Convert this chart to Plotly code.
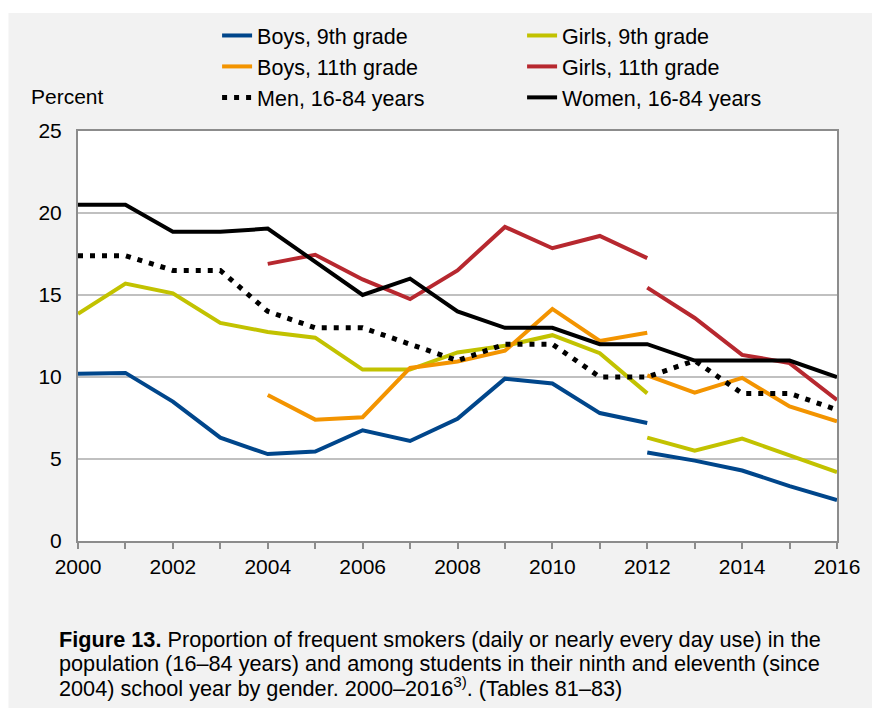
import plotly.graph_objects as go

# ---- data ----
years_all = list(range(2000, 2017))
years_9a = list(range(2000, 2013))
years_11a = list(range(2004, 2013))
years_b = list(range(2012, 2017))

boys9_a = [10.2, 10.25, 8.5, 6.3, 5.3, 5.45, 6.75, 6.1, 7.45, 9.9, 9.6, 7.8, 7.2]
boys9_b = [5.4, 4.9, 4.3, 3.35, 2.5]
girls9_a = [13.85, 15.7, 15.1, 13.3, 12.75, 12.4, 10.45, 10.45, 11.5, 11.9, 12.55, 11.45, 9.0]
girls9_b = [6.3, 5.5, 6.25, 5.25, 4.2]
boys11_a = [8.9, 7.4, 7.55, 10.55, 10.95, 11.6, 14.15, 12.2, 12.7]
boys11_b = [10.1, 9.05, 9.95, 8.2, 7.3]
girls11_a = [16.9, 17.45, 15.95, 14.75, 16.5, 19.15, 17.85, 18.6, 17.25]
girls11_b = [15.45, 13.6, 11.35, 10.85, 8.6]
men = [17.4, 17.4, 16.5, 16.5, 14.0, 13.0, 13.0, 12.0, 11.0, 12.0, 12.0, 10.0, 10.0, 11.0, 9.0, 9.0, 8.0]
women = [20.5, 20.5, 18.85, 18.85, 19.05, 17.0, 15.0, 16.0, 14.0, 13.0, 13.0, 12.0, 12.0, 11.0, 11.0, 11.0, 10.0]

x_label_vals = [y for y in years_all if y % 2 == 0]
x_label_text = [str(y) for y in x_label_vals]
y_tick_vals = [0, 5, 10, 15, 20, 25]

caption_lines = [
    "<b>Figure 13.</b> Proportion of frequent smokers (daily or nearly every day use) in the",
    "population (16–84 years) and among students in their ninth and eleventh (since",
    "2004) school year by gender. 2000–2016<sup>3)</sup>. (Tables 81–83)",
]

names = {
    "boys9": "Boys, 9th grade",
    "girls9": "Girls, 9th grade",
    "boys11": "Boys, 11th grade",
    "girls11": "Girls, 11th grade",
    "men": "Men, 16-84 years",
    "women": "Women, 16-84 years",
}
colors = {
    "boys9": "#00468b",
    "girls9": "#c2c200",
    "boys11": "#f39400",
    "girls11": "#b7282f",
    "men": "#000000",
    "women": "#000000",
}

FONT = "Liberation Sans, Arial, sans-serif"
LW = 4
AXIS_GRAY = "#8c8c8c"

fig = go.Figure()

def seg(x, y, key, legend, show, dash="solid", width=LW):
    fig.add_trace(go.Scatter(
        x=x, y=y, mode="lines", name=names[key],
        line=dict(color=colors[key], width=width, dash=dash),
        legend=legend, showlegend=show, legendgroup=key,
        hoverinfo="skip",
    ))

seg(years_9a, boys9_a, "boys9", "legend", True)
seg(years_b, boys9_b, "boys9", "legend", False)
seg(years_9a, girls9_a, "girls9", "legend2", True)
seg(years_b, girls9_b, "girls9", "legend2", False)
seg(years_11a, boys11_a, "boys11", "legend", True)
seg(years_b, boys11_b, "boys11", "legend", False)
seg(years_11a, girls11_a, "girls11", "legend2", True)
seg(years_b, girls11_b, "girls11", "legend2", False)
seg(years_all, men, "men", "legend", True, dash="5px,7px", width=5)
seg(years_all, women, "women", "legend2", True)

# pixel helpers for layout placement (plot area 78..842 x 131..541)
L, R, T, B = 78, 842, 131, 541
def px(xp):
    return (xp - L) / (R - L)
def py(yp):
    return (B - yp) / (B - T)

annotations = [
    dict(text="Percent", xref="paper", yref="paper",
         x=px(29), y=py(97), xanchor="left", yanchor="middle",
         showarrow=False, font=dict(size=21, family=FONT)),
]
for i, line in enumerate(caption_lines):
    annotations.append(dict(
        text=line, xref="paper", yref="paper", x=px(57), y=py(639 + 24 * i),
        xanchor="left", yanchor="middle", align="left",
        showarrow=False, font=dict(size=21.7, family=FONT)))

fig.update_layout(
    width=872, height=708,
    margin=dict(l=L, r=872 - R, t=T, b=708 - B, pad=0),
    paper_bgcolor="#ffffff",
    plot_bgcolor="#ffffff",
    font=dict(family=FONT, size=21, color="#000000"),
    legend=dict(
        x=px(218), y=py(15), xanchor="left", yanchor="top",
        bgcolor="rgba(0,0,0,0)", font=dict(size=21.5, family=FONT),
        traceorder="normal", tracegroupgap=0, itemwidth=30,
    ),
    legend2=dict(
        x=px(525), y=py(15), xanchor="left", yanchor="top",
        bgcolor="rgba(0,0,0,0)", font=dict(size=21.5, family=FONT),
        traceorder="normal", tracegroupgap=0, itemwidth=30,
    ),
    shapes=[
        dict(type="rect", xref="paper", yref="paper",
             x0=px(8), x1=px(900), y0=py(740), y1=py(13),
             fillcolor="#f2f2f2", line=dict(width=0), layer="below"),
        dict(type="rect", xref="paper", yref="paper",
             x0=0, x1=1, y0=0, y1=1,
             fillcolor="#ffffff", line=dict(width=0), layer="below"),
    ],
    annotations=annotations,
)

fig.update_xaxes(
    range=[2000, 2016], tickmode="array", tickvals=x_label_vals, ticktext=x_label_text,
    ticks="outside", ticklen=6, tickwidth=2, tickcolor=AXIS_GRAY,
    minor=dict(tickmode="array", tickvals=years_all, ticks="outside", ticklen=6,
               tickwidth=2, tickcolor=AXIS_GRAY, showgrid=False),
    showline=True, linecolor=AXIS_GRAY, linewidth=2, mirror=True,
    showgrid=False, zeroline=False,
    tickfont=dict(size=21, family=FONT),
)
fig.update_yaxes(
    range=[0, 25], tickmode="array", tickvals=y_tick_vals,
    ticks="", showline=True, linecolor=AXIS_GRAY, linewidth=2, mirror=True,
    showgrid=True, gridcolor="#c0c0c0", gridwidth=1.5, zeroline=False,
    tickfont=dict(size=21, family=FONT), ticklabelstandoff=10,
)

fig.write_html(
    "out.html",
    config={"displayModeBar": False},
    post_script="document.body.style.margin='0px';document.body.style.overflow='hidden';",
)
